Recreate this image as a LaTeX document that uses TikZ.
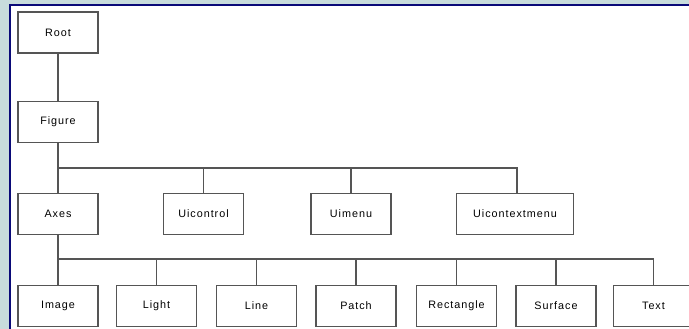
\documentclass[tikz,border=0pt]{standalone}
\usepackage{fontspec}
\setmainfont{Liberation Sans}[LetterSpace=9]
\definecolor{bgblue}{HTML}{C8DCDC}
\definecolor{navy}{HTML}{0A0A78}
\definecolor{edge}{HTML}{555555}
\begin{document}
\begin{tikzpicture}[x=1pt,y=-1pt,
  obj/.style={draw=edge,line width=1.4pt,fill=white,minimum width=80pt,minimum height=41pt,inner sep=0pt,font=\fontsize{10.8}{12}\selectfont},
  link/.style={draw=edge,line width=1.3pt}]
\useasboundingbox (0,0) rectangle (689,329);
\fill[bgblue] (0,0) rectangle (689,329);
\fill[white] (10,5) rectangle (689,329);
\draw[navy,line width=2pt] (10,329) -- (10,5) -- (689,5);
% nodes
\node[obj] (root) at (58,32.5) {Root};
\node[obj] (fig) at (58,122) {Figure};
\node[obj] (axes) at (58,214) {Axes};
\node[obj] (uic) at (203.5,214) {Uicontrol};
\node[obj] (uim) at (351,214) {Uimenu};
\node[obj,minimum width=117pt] (uicm) at (515,214) {Uicontextmenu};
\node[obj] (img) at (58,306) {Image};
\node[obj] (light) at (156.5,306) {Light};
\node[obj] (line) at (256.5,306) {Line};
\node[obj] (patch) at (356,306) {Patch};
\node[obj] (rect) at (456.5,306) {Rectangle};
\node[obj] (surf) at (556,306) {Surface};
\node[obj] (text) at (653.5,306) {Text};
\coordinate (b1) at (0,168);
\coordinate (b2) at (0,259);
\coordinate (cm) at (517,0);
% connectors
\draw[link] (root) -- (fig);
\draw[link] (fig) -- (axes);
\draw[link] (fig.south |- b1) -- (cm |- b1) -- (cm |- uicm.north);
\draw[link] (uic.north |- b1) -- (uic);
\draw[link] (uim.north |- b1) -- (uim);
\draw[link] (axes) -- (img);
\draw[link] (axes.south |- b2) -- (text.north |- b2) -- (text);
\foreach \n in {light,line,patch,rect,surf}
  \draw[link] (\n.north |- b2) -- (\n);
\end{tikzpicture}
\end{document}
